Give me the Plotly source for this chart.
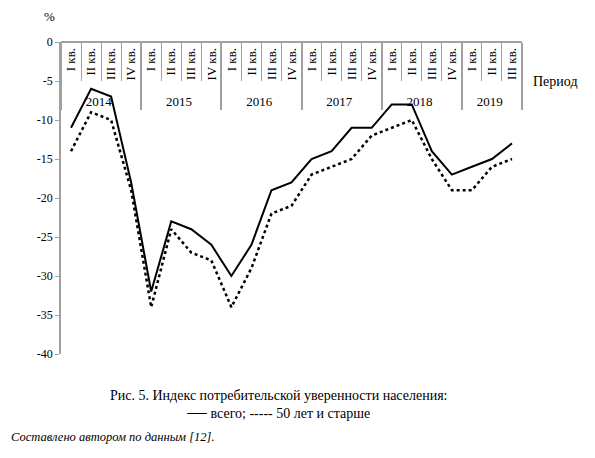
import plotly.graph_objects as go

# данные: индекс потребительской уверенности, %
years = ["2014"] * 4 + ["2015"] * 4 + ["2016"] * 4 + ["2017"] * 4 + ["2018"] * 4 + ["2019"] * 3
quarters = ["I кв.", "II кв.", "III кв.", "IV кв."] * 5 + ["I кв.", "II кв.", "III кв."]
total = [-11, -6, -7, -18, -32, -23, -24, -26, -30, -26, -19, -18,
         -15, -14, -11, -11, -8, -8, -14, -17, -16, -15, -13]
age50 = [-14, -9, -10, -19, -34, -24, -27, -28, -34, -29, -22, -21,
         -17, -16, -15, -12, -11, -10, -15, -19, -19, -16, -15]
y_ticks = [0, -5, -10, -15, -20, -25, -30, -35, -40]
y_labels = ["0", "-5", "-10", "-15", "-20", "-25", "-30", "-35", "-40"]

serif = "Liberation Serif, Times New Roman, serif"
grey = "#a0a0a0"

fig = go.Figure()
fig.add_trace(go.Scatter(x=[years, quarters], y=total, mode="lines",
                         line=dict(color="black", width=2), name="всего"))
fig.add_trace(go.Scatter(x=[years, quarters], y=age50, mode="lines",
                         line=dict(color="black", width=2.5, dash="dot"), name="50 лет и старше"))

# страница html сдвигает график на 8 px (отступ body)
fig.update_layout(
    width=595, height=458,
    margin=dict(l=53, r=81, t=34, b=112),
    paper_bgcolor="white", plot_bgcolor="white",
    showlegend=False,
    font=dict(family=serif, color="black", size=12),
    xaxis=dict(
        type="multicategory", anchor="free", position=1, side="bottom",
        range=[-0.5, len(total) - 0.5], automargin=False,
        showline=True, linecolor=grey, linewidth=1.5,
        ticks="outside", tickson="boundaries", ticklen=38, tickcolor=grey,
        tickangle=-90, tickfont=dict(size=13),
        showdividers=True, dividercolor=grey, dividerwidth=1.5,
        showgrid=False, zeroline=False,
    ),
    yaxis=dict(
        range=[-40, 0], tickvals=y_ticks, ticktext=y_labels, automargin=False,
        showline=True, linecolor=grey, linewidth=1.5,
        ticks="outside", ticklen=4, tickcolor=grey,
        showgrid=False, zeroline=False, tickfont=dict(size=12),
    ),
)

fig.add_annotation(text="%", xref="paper", yref="paper", x=-0.024, y=1.083,
                   xanchor="center", yanchor="middle", showarrow=False, font=dict(size=13))
fig.add_annotation(text="Период", xref="paper", yref="paper", x=1.02, y=0.872,
                   xanchor="left", yanchor="middle", showarrow=False, font=dict(size=14))
fig.add_annotation(text="Рис. 5. Индекс потребительской уверенности населения:<br>── всего; ----- 50 лет и старше",
                   xref="paper", yref="paper", x=0.471, y=-0.163, xanchor="center", yanchor="middle",
                   showarrow=False, font=dict(size=14))
fig.add_annotation(text="<i>Составлено автором по данным [12].</i>", xref="paper", yref="paper",
                   x=-0.113, y=-0.266, xanchor="left", yanchor="middle", showarrow=False, font=dict(size=12.5))

fig.write_html("out.html")
